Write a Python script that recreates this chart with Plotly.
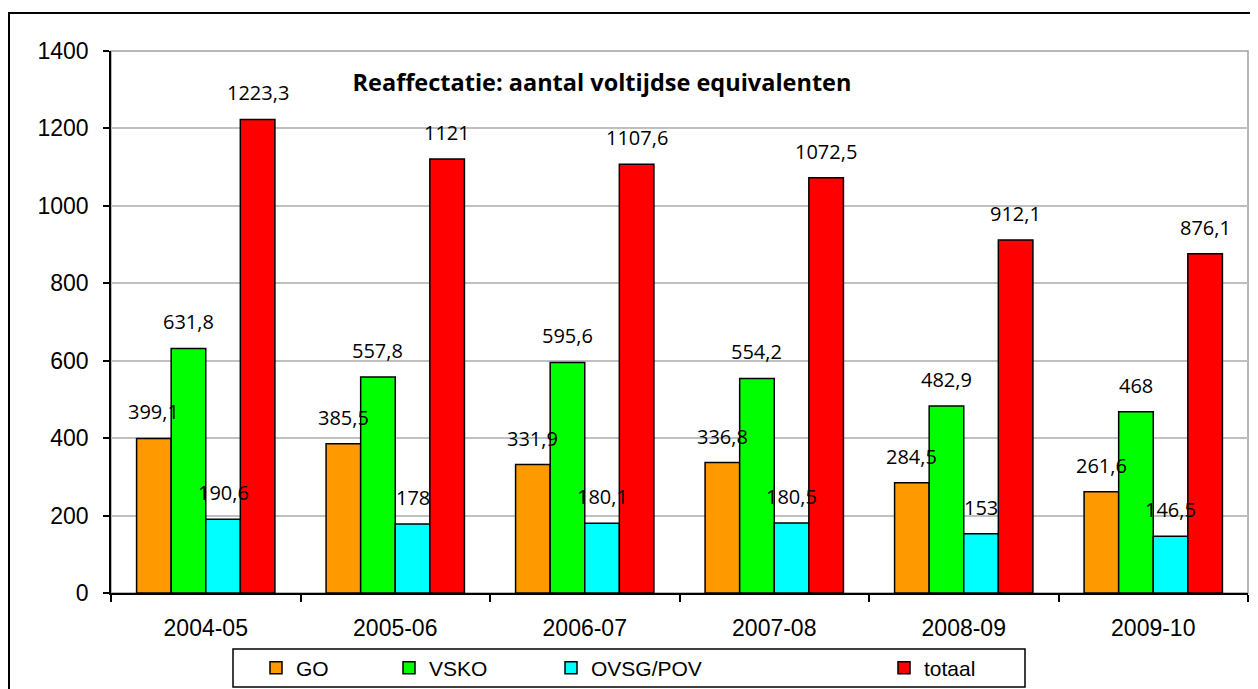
import plotly.graph_objects as go

categories = ["2004-05", "2005-06", "2006-07", "2007-08", "2008-09", "2009-10"]
go_vals = [399.1, 385.5, 331.9, 336.8, 284.5, 261.6]
vsko_vals = [631.8, 557.8, 595.6, 554.2, 482.9, 468]
ovsg_vals = [190.6, 178, 180.1, 180.5, 153, 146.5]
totaal_vals = [1223.3, 1121, 1107.6, 1072.5, 912.1, 876.1]
series_names = ["GO", "VSKO", "OVSG/POV", "totaal"]
series_colors = ["#FF9900", "#00FF00", "#00FFFF", "#FF0000"]
y_ticks = [0, 200, 400, 600, 800, 1000, 1200, 1400]
title_text = "Reaffectatie: aantal voltijdse equivalenten"

# page body has an 8px margin; work in screen coordinates and convert
OFF = 8
W, H = 1258 - OFF, 689 - OFF
PL, PR, PT, PB = 111, 1248, 51, 593          # plot area on screen
ML, MR, MT, MB = PL - OFF, W - (PR - OFF), PT - OFF, H - (PB - OFF)
BARGAP = 0.27
plot_w = PR - PL
plot_h = PB - PT


def px_x(sx):
    return (sx - PL) / plot_w


def px_y(sy):
    return (PB - sy) / plot_h


def fmt(v):
    s = ("%.1f" % v).rstrip("0").rstrip(".")
    return s.replace(".", ",")


all_vals = [go_vals, vsko_vals, ovsg_vals, totaal_vals]
legend_keys = ["legend", "legend2", "legend3", "legend4"]
legend_x_screen = [256, 389, 551, 884]

fig = go.Figure()
for j, (name, vals, col) in enumerate(zip(series_names, all_vals, series_colors)):
    fig.add_trace(go.Bar(
        x=categories, y=vals, name=name,
        marker=dict(color=col, line=dict(color="black", width=1.5)),
        legend=legend_keys[j],
    ))

# data labels
cat_px = plot_w / len(categories)
bar_px = cat_px * (1 - BARGAP) / len(series_names)
annotations = []
for j, vals in enumerate(all_vals):
    for c, v in zip(categories, vals):
        annotations.append(dict(
            x=c, y=v, xref="x", yref="y", text=fmt(v), showarrow=False,
            xanchor="center", yanchor="bottom",
            xshift=(j - 1.5) * bar_px, yshift=11,
            font=dict(family="Open Sans", size=20, color="black"),
        ))

shapes = [
    # plot area border (gray)
    dict(type="rect", xref="paper", yref="paper", x0=0, x1=1, y0=0, y1=1,
         line=dict(color="#A0A0A0", width=1.5), layer="below"),
    # outer chart border
    dict(type="rect", xref="paper", yref="paper",
         x0=px_x(OFF + 1), x1=px_x(1256),
         y0=px_y(700), y1=px_y(13),
         line=dict(color="black", width=2)),
    # legend box
    dict(type="rect", xref="paper", yref="paper",
         x0=px_x(233), x1=px_x(1025),
         y0=px_y(687), y1=px_y(649),
         line=dict(color="black", width=1.5)),
]

layout_legends = {}
for j, key in enumerate(legend_keys):
    layout_legends[key] = dict(
        x=px_x(legend_x_screen[j]), xref="paper", xanchor="left",
        y=px_y(668), yref="paper", yanchor="middle",
        orientation="h", bgcolor="rgba(0,0,0,0)", borderwidth=0,
        font=dict(family="Liberation Sans", size=21, color="black"),
    )

fig.update_layout(
    width=W, height=H,
    margin=dict(l=ML, r=MR, t=MT, b=MB, autoexpand=False),
    paper_bgcolor="white", plot_bgcolor="white",
    barmode="group", bargap=BARGAP, bargroupgap=0,
    showlegend=True,
    title=dict(text="<b>" + title_text + "</b>", x=px_x(602), xref="paper",
               xanchor="center", y=px_y(83), yref="paper", yanchor="middle",
               font=dict(family="Open Sans", size=23.5, color="black")),
    annotations=annotations,
    shapes=shapes,
    xaxis=dict(
        type="category", showline=True, linecolor="black", linewidth=1.5,
        ticks="outside", tickson="boundaries", ticklen=7, tickcolor="black", tickwidth=1.5,
        tickfont=dict(family="Liberation Sans", size=23, color="black"),
        ticklabelstandoff=14, showgrid=False, automargin=False,
    ),
    yaxis=dict(
        range=[0, 1400], tickvals=y_ticks, showline=True, linecolor="black", linewidth=1.5,
        ticks="outside", ticklen=6, tickcolor="black", tickwidth=1.5,
        tickfont=dict(family="Liberation Sans", size=23, color="black"),
        showgrid=True, gridcolor="#C0C0C0", gridwidth=1.5, zeroline=False,
        ticklabelstandoff=10, automargin=False,
    ),
    **layout_legends,
)

fig.write_html("out.html")
